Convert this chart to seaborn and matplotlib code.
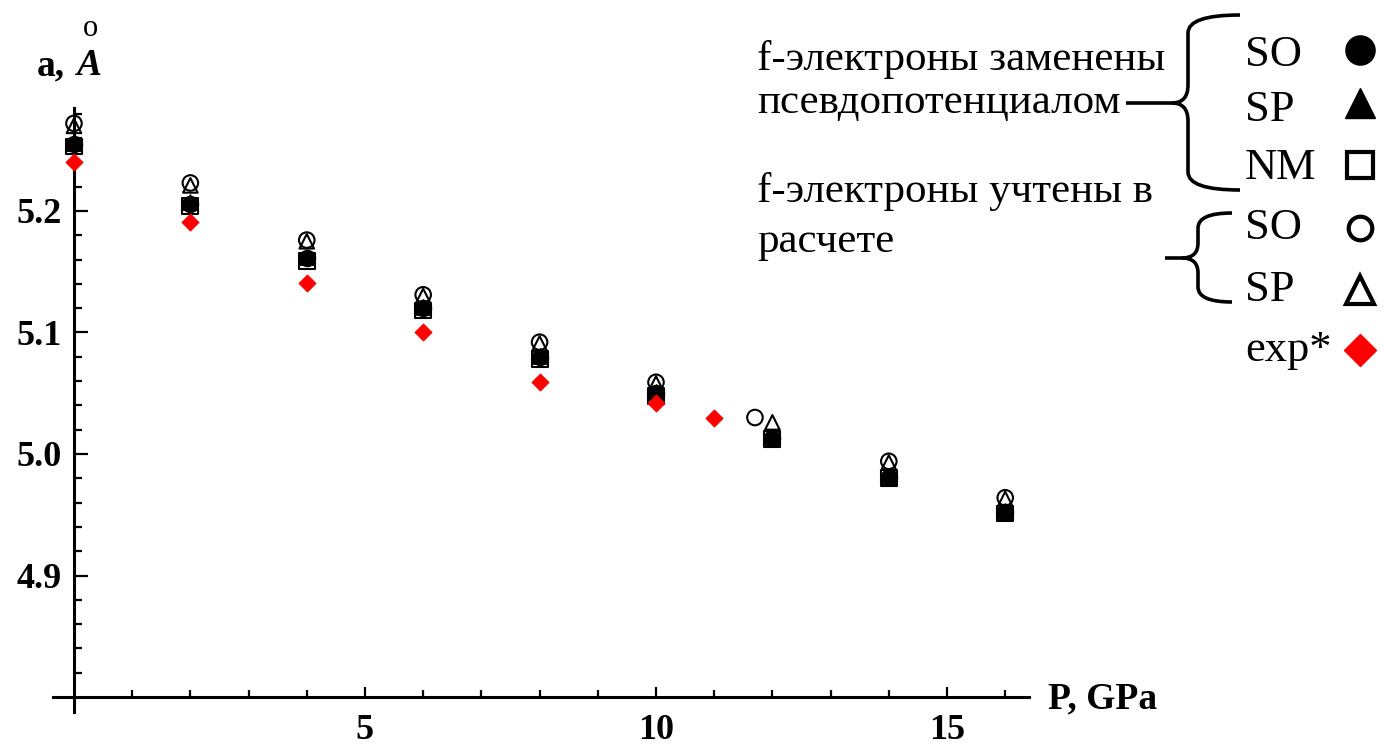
import numpy as np
import pandas as pd
import matplotlib
matplotlib.use("Agg")
import matplotlib.pyplot as plt
import seaborn as sns
from matplotlib.lines import Line2D
from matplotlib.path import Path
from matplotlib.patches import PathPatch

# ---------------- data ----------------
P_calc = [0, 2, 4, 6, 8, 10, 12, 14, 16]
SO_pp = [5.255, 5.206, 5.161, 5.120, 5.080, 5.050, 5.013, 4.981, 4.952]   # filled circle
SP_pp = [5.256, 5.207, 5.162, 5.121, 5.081, 5.051, 5.014, 4.982, 4.953]   # filled triangle
NM_pp = [5.253, 5.204, 5.159, 5.118, 5.078, 5.048, 5.012, 4.980, 4.951]   # open square
P_so_f = [0, 2, 4, 6, 8, 10, 11.7, 14, 16]
SO_f = [5.272, 5.223, 5.176, 5.131, 5.092, 5.059, 5.030, 4.994, 4.964]    # open circle
SP_f = [5.270, 5.221, 5.175, 5.130, 5.091, 5.058, 5.026, 4.993, 4.963]    # open triangle
P_exp = [0, 2, 4, 6, 8, 10, 11]
A_exp = [5.240, 5.191, 5.141, 5.100, 5.059, 5.042, 5.030]

x_major = [5, 10, 15]
x_minor = [1, 2, 3, 4, 6, 7, 8, 9, 11, 12, 13, 14, 16]
y_major = [4.9, 5.0, 5.1, 5.2]
y_minor = [4.82, 4.84, 4.86, 4.88, 4.92, 4.94, 4.96, 4.98, 5.02, 5.04, 5.06, 5.08,
           5.12, 5.14, 5.16, 5.18, 5.22, 5.24, 5.26, 5.28]

legend_labels = ["SO", "SP", "NM", "SO", "SP", "exp*"]
group1_text = ["f-электроны заменены", "псевдопотенциалом"]
group2_text = ["f-электроны учтены в", "расчете"]

# ---------------- style ----------------
sns.set_style("white")
plt.rcParams["font.family"] = ["Liberation Serif", "DejaVu Serif"]
plt.rcParams["text.color"] = "black"
plt.rcParams["xtick.color"] = "black"
plt.rcParams["ytick.color"] = "black"

W, H = 1388, 745
fig = plt.figure(figsize=(W / 100, H / 100), dpi=100)


def fx(x):
    return x / W


def fy(y):
    return 1 - y / H


left, right, top, bottom = 53, 1028.5, 107.6, 712
ax = fig.add_axes([fx(left), fy(bottom), (right - left) / W, (bottom - top) / H])
ax.set_xlim(-0.36, 16.4)
ax.set_ylim(4.7877, 5.285)

# markers
kw_open = dict(facecolor="none", edgecolor="black", linewidth=1.5, ax=ax, zorder=3)
sns.scatterplot(x=P_so_f, y=SO_f, marker="o", s=125, **kw_open)
sns.scatterplot(x=P_calc, y=SP_f, marker="^", s=110, **kw_open)
sns.scatterplot(x=P_calc, y=NM_pp, marker="s", s=130, **kw_open)
sns.scatterplot(x=P_calc, y=SO_pp, marker="o", s=135, color="black", edgecolor="black", ax=ax, zorder=3)
sns.scatterplot(x=P_calc, y=SP_pp, marker="^", s=125, color="black", edgecolor="black", ax=ax, zorder=3)
sns.scatterplot(x=P_exp, y=A_exp, marker="D", s=75, color="#ff0000", edgecolor="#ff0000", ax=ax, zorder=4)

# axes styling
for s in ["top", "right"]:
    ax.spines[s].set_visible(False)
ax.spines["left"].set_position(("data", 0))
ax.spines["bottom"].set_position(("data", 4.8))
for s in ["left", "bottom"]:
    ax.spines[s].set_linewidth(2.2)
    ax.spines[s].set_color("black")

ax.set_xticks(x_major)
ax.set_xticks(x_minor, minor=True)
ax.set_yticks(y_major)
ax.set_yticks(y_minor, minor=True)
ax.set_xticklabels([f"{v:d}" for v in x_major])
ax.set_yticklabels([f"{v:.1f}" for v in y_major])
ax.tick_params(axis="x", which="both", bottom=True, top=False)
ax.tick_params(axis="y", which="both", left=True, right=False)
ax.tick_params(axis="x", which="major", direction="in", length=7, width=1.6, pad=12,
               labelsize=26, colors="black")
ax.tick_params(axis="x", which="minor", direction="in", length=5, width=1.6, colors="black")
ax.tick_params(axis="y", which="major", direction="in", length=10, width=1.6, pad=9,
               labelsize=26, colors="black")
ax.tick_params(axis="y", which="minor", direction="in", length=6, width=1.6, colors="black")
for lab in ax.get_xticklabels() + ax.get_yticklabels():
    lab.set_fontweight("bold")
ax.set_xlabel("")
ax.set_ylabel("")
ax.patch.set_alpha(0)

# axis titles
fig.text(fx(37), fy(75), "a,", fontsize=27, fontweight="bold", va="baseline", ha="left")
fig.text(fx(77), fy(75), "A", fontsize=27, fontweight="bold", style="italic", va="baseline", ha="left")
fig.text(fx(90), fy(28), "o", fontsize=22, va="center", ha="center")
fig.text(fx(1048), fy(708), "P, GPa", fontsize=27, fontweight="bold", va="baseline", ha="left")

# legend text
fs_txt = 31
fig.text(fx(757), fy(70), group1_text[0], fontsize=fs_txt, va="baseline", ha="left")
fig.text(fx(757), fy(113), group1_text[1], fontsize=fs_txt, va="baseline", ha="left")
fig.text(fx(757), fy(202), group2_text[0], fontsize=fs_txt, va="baseline", ha="left")
fig.text(fx(757), fy(252), group2_text[1], fontsize=fs_txt, va="baseline", ha="left")

leg_y = [55, 110, 168, 228, 290, 350]
for lab, yy in zip(legend_labels, leg_y):
    fig.text(fx(1245), fy(yy), lab, fontsize=32, va="center", ha="left")

mk = [
    dict(marker="o", ms=21, mfc="black", mec="black", mew=1),
    dict(marker="^", ms=22, mfc="black", mec="black", mew=1),
    dict(marker="s", ms=19, mfc="none", mec="black", mew=3),
    dict(marker="o", ms=17, mfc="none", mec="black", mew=3),
    dict(marker="^", ms=20, mfc="none", mec="black", mew=3),
    dict(marker="D", ms=16, mfc="#ff0000", mec="#ff0000", mew=1),
]
mk_y = [50, 103, 165, 228, 290, 350]
for m, yy in zip(mk, mk_y):
    fig.add_artist(Line2D([fx(1360)], [fy(yy)], transform=fig.transFigure, linestyle="none", **m))


def brace(xr, xv, yt, ym, yb, xtip, xline, r):
    verts = [
        (xr, yt), (xv, yt), (xv, yt + r),
        (xv, ym - r),
        (xv, ym), (xtip, ym),
        (xline, ym),
        (xtip, ym),
        (xv, ym), (xv, ym + r),
        (xv, yb - r),
        (xv, yb), (xr, yb),
    ]
    codes = [Path.MOVETO, Path.CURVE3, Path.CURVE3, Path.LINETO, Path.CURVE3, Path.CURVE3,
             Path.LINETO, Path.MOVETO, Path.CURVE3, Path.CURVE3, Path.LINETO, Path.CURVE3, Path.CURVE3]
    verts = [(fx(a), fy(b)) for a, b in verts]
    patch = PathPatch(Path(verts, codes), transform=fig.transFigure, fill=False,
                      edgecolor="black", linewidth=2.6)
    fig.add_artist(patch)


brace(1240, 1188, 15, 103, 190, 1172, 1126, 18)
brace(1232, 1198, 213, 258, 302, 1182, 1165, 15)

fig.savefig("out.png", dpi=100, facecolor="white")
